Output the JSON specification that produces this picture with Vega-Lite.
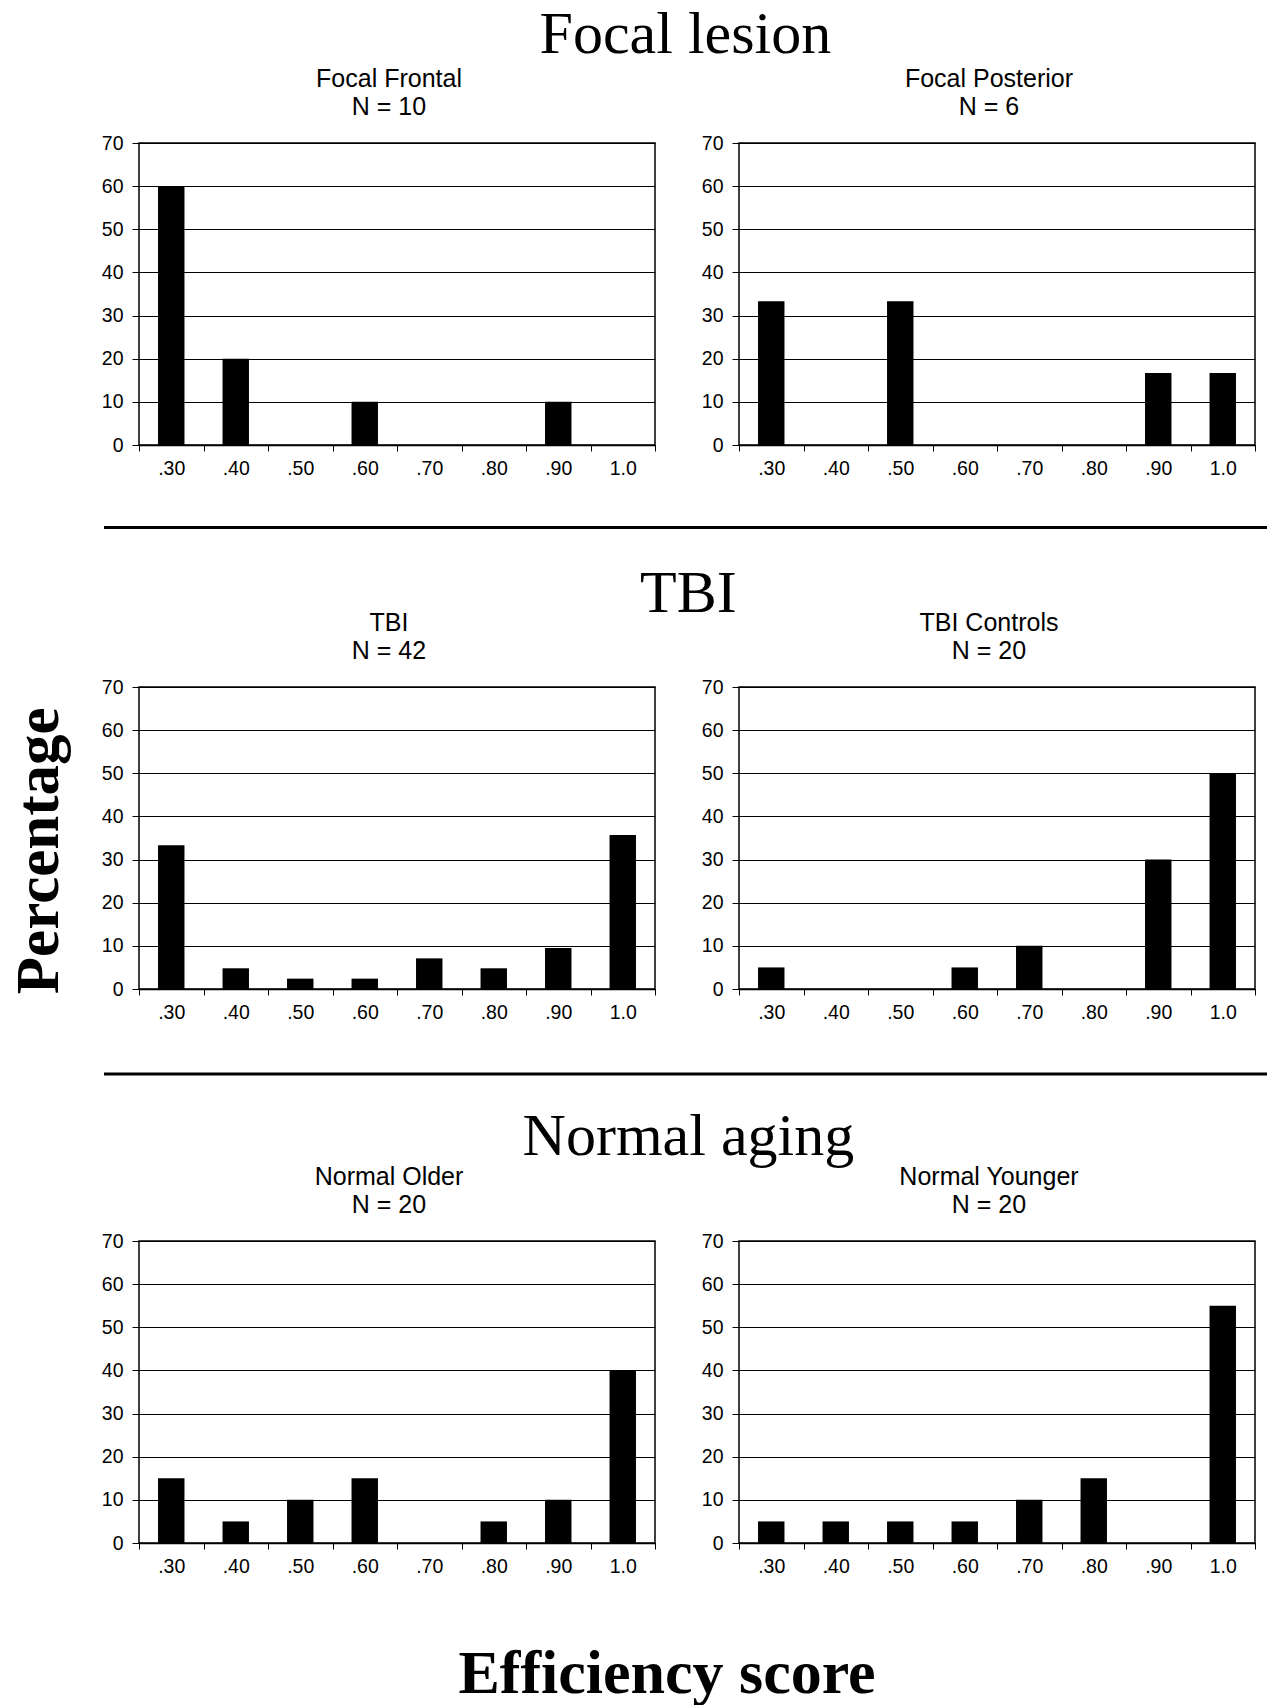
{
  "$schema": "https://vega.github.io/schema/vega-lite/v6.json",
  "background": "white",
  "padding": {"left": 8, "top": 5, "right": 0, "bottom": 0},
  "config": {
    "view": {"stroke": "black", "strokeWidth": 1.5},
    "font": "Liberation Sans",
    "title": {"font": "Liberation Sans", "fontSize": 25, "fontWeight": "normal", "color": "black", "lineHeight": 28, "offset": 13, "anchor": "middle", "dx": -8},
    "axisX": {"title": null, "labelAngle": 0, "labelFont": "Liberation Sans", "labelFontSize": 19.5, "labelColor": "black", "labelPadding": 8, "tickColor": "black", "tickSize": 6, "tickWidth": 1, "domainColor": "black", "domainWidth": 1.5, "grid": false, "tickBand": "extent"},
    "axisY": {"title": null, "labelFont": "Liberation Sans", "labelFontSize": 19.5, "labelColor": "black", "labelPadding": 9, "tickColor": "black", "tickSize": 7, "domain": false, "grid": true, "gridColor": "black", "gridWidth": 1, "gridOpacity": 1, "values": [0, 10, 20, 30, 40, 50, 60, 70]},
    "bar": {"color": "black", "width": {"band": 0.41}},
    "concat": {"spacing": 40}
  },
  "title": {"text": "Efficiency score", "orient": "bottom", "anchor": "middle", "font": "Liberation Serif", "fontSize": 62, "fontWeight": "bold", "offset": 68, "dx": 28},
  "vconcat": [
    {
      "title": {"text": "Percentage", "orient": "left", "anchor": "middle", "font": "Liberation Serif", "fontSize": 61, "fontWeight": "bold", "offset": 30, "dx": -60},
      "spacing": 26,
      "vconcat": [
        {
          "title": {"text": "Focal lesion", "anchor": "middle", "font": "Liberation Serif", "fontSize": 60, "fontWeight": "normal", "offset": 0, "lineHeight": 59, "dx": 7},
          "spacing": 43,
          "hconcat": [
            {
              "width": 516, "height": 302,
              "title": {"text": ["Focal Frontal", "N = 10"]},
              "data": {"values": [
                {"score": ".30", "pct": 60}, {"score": ".40", "pct": 20}, {"score": ".50", "pct": 0}, {"score": ".60", "pct": 10},
                {"score": ".70", "pct": 0}, {"score": ".80", "pct": 0}, {"score": ".90", "pct": 10}, {"score": "1.0", "pct": 0}
              ]},
              "mark": "bar",
              "encoding": {
                "x": {"field": "score", "type": "ordinal", "sort": null, "scale": {"type": "band", "padding": 0, "domain": [".30", ".40", ".50", ".60", ".70", ".80", ".90", "1.0"]}},
                "y": {"field": "pct", "type": "quantitative", "scale": {"domain": [0, 70]}}
              }
            },
            {
              "width": 516, "height": 302,
              "title": {"text": ["Focal Posterior", "N = 6"]},
              "data": {"values": [
                {"score": ".30", "pct": 33.3}, {"score": ".40", "pct": 0}, {"score": ".50", "pct": 33.3}, {"score": ".60", "pct": 0},
                {"score": ".70", "pct": 0}, {"score": ".80", "pct": 0}, {"score": ".90", "pct": 16.7}, {"score": "1.0", "pct": 16.7}
              ]},
              "mark": "bar",
              "encoding": {
                "x": {"field": "score", "type": "ordinal", "sort": null, "scale": {"type": "band", "padding": 0, "domain": [".30", ".40", ".50", ".60", ".70", ".80", ".90", "1.0"]}},
                "y": {"field": "pct", "type": "quantitative", "scale": {"domain": [0, 70]}}
              }
            }
          ]
        },
        {
          "width": 1129, "height": 33,
          "view": {"stroke": null},
          "data": {"values": [{}]},
          "mark": {"type": "rule", "color": "black", "strokeWidth": 3},
          "encoding": {
            "x": {"datum": -0.031, "type": "quantitative", "scale": {"domain": [0, 1], "zero": false, "nice": false}, "axis": null},
            "x2": {"datum": 1},
            "y": {"datum": 0.315, "type": "quantitative", "scale": {"domain": [0, 1], "zero": false, "nice": false}, "axis": null}
          }
        },
        {
          "title": {"text": "TBI", "anchor": "middle", "font": "Liberation Serif", "fontSize": 60, "fontWeight": "normal", "offset": -15, "lineHeight": 59, "dx": 10},
          "spacing": 43,
          "hconcat": [
            {
              "width": 516, "height": 302,
              "title": {"text": ["TBI", "N = 42"]},
              "data": {"values": [
                {"score": ".30", "pct": 33.3}, {"score": ".40", "pct": 4.8}, {"score": ".50", "pct": 2.4}, {"score": ".60", "pct": 2.4},
                {"score": ".70", "pct": 7.1}, {"score": ".80", "pct": 4.8}, {"score": ".90", "pct": 9.5}, {"score": "1.0", "pct": 35.7}
              ]},
              "mark": "bar",
              "encoding": {
                "x": {"field": "score", "type": "ordinal", "sort": null, "scale": {"type": "band", "padding": 0, "domain": [".30", ".40", ".50", ".60", ".70", ".80", ".90", "1.0"]}},
                "y": {"field": "pct", "type": "quantitative", "scale": {"domain": [0, 70]}}
              }
            },
            {
              "width": 516, "height": 302,
              "title": {"text": ["TBI Controls", "N = 20"]},
              "data": {"values": [
                {"score": ".30", "pct": 5}, {"score": ".40", "pct": 0}, {"score": ".50", "pct": 0}, {"score": ".60", "pct": 5},
                {"score": ".70", "pct": 10}, {"score": ".80", "pct": 0}, {"score": ".90", "pct": 30}, {"score": "1.0", "pct": 50}
              ]},
              "mark": "bar",
              "encoding": {
                "x": {"field": "score", "type": "ordinal", "sort": null, "scale": {"type": "band", "padding": 0, "domain": [".30", ".40", ".50", ".60", ".70", ".80", ".90", "1.0"]}},
                "y": {"field": "pct", "type": "quantitative", "scale": {"domain": [0, 70]}}
              }
            }
          ]
        },
        {
          "width": 1129, "height": 32,
          "view": {"stroke": null},
          "data": {"values": [{}]},
          "mark": {"type": "rule", "color": "black", "strokeWidth": 3},
          "encoding": {
            "x": {"datum": -0.031, "type": "quantitative", "scale": {"domain": [0, 1], "zero": false, "nice": false}, "axis": null},
            "x2": {"datum": 1},
            "y": {"datum": 0.216, "type": "quantitative", "scale": {"domain": [0, 1], "zero": false, "nice": false}, "axis": null}
          }
        },
        {
          "title": {"text": "Normal aging", "anchor": "middle", "font": "Liberation Serif", "fontSize": 60, "fontWeight": "normal", "offset": -4, "lineHeight": 59, "dx": 10},
          "spacing": 43,
          "hconcat": [
            {
              "width": 516, "height": 302,
              "title": {"text": ["Normal Older", "N = 20"]},
              "data": {"values": [
                {"score": ".30", "pct": 15}, {"score": ".40", "pct": 5}, {"score": ".50", "pct": 10}, {"score": ".60", "pct": 15},
                {"score": ".70", "pct": 0}, {"score": ".80", "pct": 5}, {"score": ".90", "pct": 10}, {"score": "1.0", "pct": 40}
              ]},
              "mark": "bar",
              "encoding": {
                "x": {"field": "score", "type": "ordinal", "sort": null, "scale": {"type": "band", "padding": 0, "domain": [".30", ".40", ".50", ".60", ".70", ".80", ".90", "1.0"]}},
                "y": {"field": "pct", "type": "quantitative", "scale": {"domain": [0, 70]}}
              }
            },
            {
              "width": 516, "height": 302,
              "title": {"text": ["Normal Younger", "N = 20"]},
              "data": {"values": [
                {"score": ".30", "pct": 5}, {"score": ".40", "pct": 5}, {"score": ".50", "pct": 5}, {"score": ".60", "pct": 5},
                {"score": ".70", "pct": 10}, {"score": ".80", "pct": 15}, {"score": ".90", "pct": 0}, {"score": "1.0", "pct": 55}
              ]},
              "mark": "bar",
              "encoding": {
                "x": {"field": "score", "type": "ordinal", "sort": null, "scale": {"type": "band", "padding": 0, "domain": [".30", ".40", ".50", ".60", ".70", ".80", ".90", "1.0"]}},
                "y": {"field": "pct", "type": "quantitative", "scale": {"domain": [0, 70]}}
              }
            }
          ]
        }
      ]
    }
  ]
}
